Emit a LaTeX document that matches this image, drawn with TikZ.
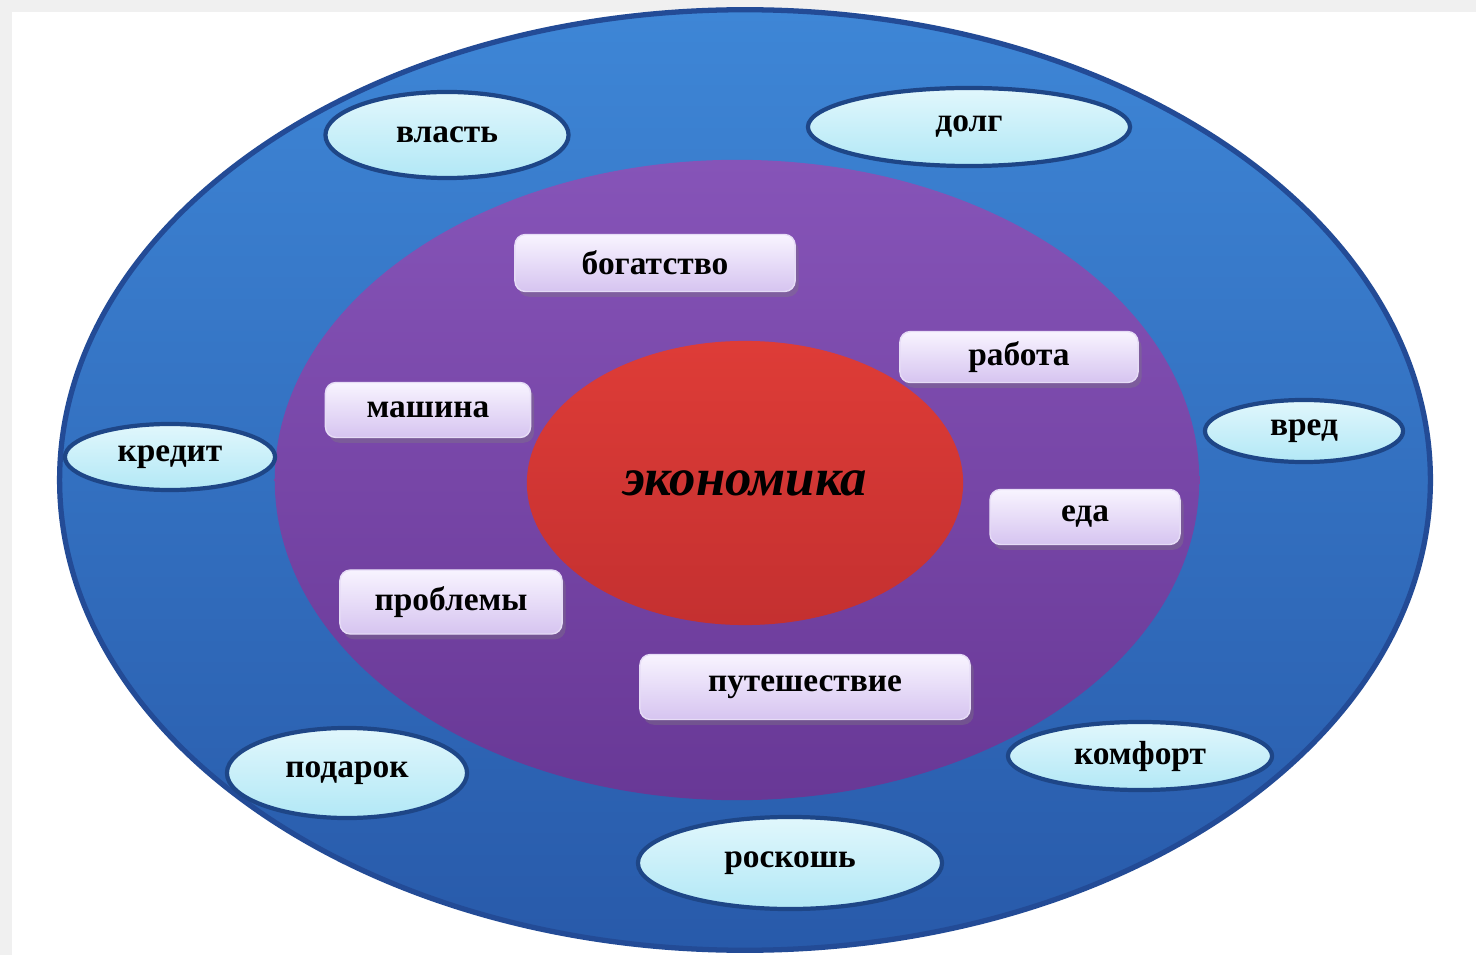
\documentclass[tikz,border=0pt]{standalone}
\usepackage{fontspec}
\setmainfont{Liberation Serif}
\usetikzlibrary{shapes.geometric,shadows}

\definecolor{wordtop}{RGB}{225,247,252}
\definecolor{wordbot}{RGB}{178,232,246}
\definecolor{tiletop}{RGB}{248,244,255}
\definecolor{tilebot}{RGB}{214,196,240}

\tikzset{
    word/.style={ellipse, draw={rgb,255:red,30;green,70;blue,135}, line width=1.2pt, inner sep=0pt,
        top color=wordtop, bottom color=wordbot,
        font=\fontsize{9.5}{12}\selectfont\bfseries},
    tile/.style={rounded corners=3pt, draw=tilebot!60!white, inner sep=0pt,
        top color=tiletop, bottom color=tilebot,
        drop shadow={opacity=0.35, shadow xshift=1pt, shadow yshift=-1.5pt},
        font=\fontsize{9.5}{12}\selectfont\bfseries}
}

\begin{document}
\begin{tikzpicture}[x=0.01cm, y=-0.01cm, outer sep=0pt]
    \useasboundingbox (0,0) rectangle (1476,955);
    % frame
    \fill[gray!12] (0,0) rectangle (1476,955);
    \fill[white] (12,12) rectangle (1476,955);

    % rings
    \node[ellipse, draw={rgb,255:red,35;green,75;blue,150}, line width=1.5pt, minimum width=13.7cm, minimum height=9.4cm,
        top color={rgb,255:red,62;green,134;blue,214}, bottom color={rgb,255:red,40;green,90;blue,170}]
        (outer) at (745,480) {};
    \node[ellipse, minimum width=9.24cm, minimum height=6.4cm,
        top color={rgb,255:red,134;green,84;blue,184}, bottom color={rgb,255:red,104;green,56;blue,150}]
        (inner) at (737,480) {};
    \node[ellipse, minimum width=4.36cm, minimum height=2.84cm,
        top color={rgb,255:red,222;green,60;blue,55}, bottom color={rgb,255:red,196;green,48;blue,48},
        font=\fontsize{15}{18}\selectfont\bfseries\itshape] (core) at (745,483) {экономика};

    % inner tiles
    \node[tile, minimum width=2.80cm, minimum height=0.57cm] (bogatstvo) at (655,263) {богатство};
    \node[tile, minimum width=2.38cm, minimum height=0.51cm] (rabota) at (1019,357) {работа};
    \node[tile, minimum width=2.05cm, minimum height=0.55cm] (mashina) at (428,410) {машина};
    \node[tile, minimum width=1.90cm, minimum height=0.55cm] (eda) at (1085,517) {еда};
    \node[tile, minimum width=2.22cm, minimum height=0.64cm] (problemy) at (451,602) {проблемы};
    \node[tile, minimum width=3.30cm, minimum height=0.65cm] (puteshestvie) at (805,687) {путешествие};

    % outer words
    \node[word, minimum width=2.43cm, minimum height=0.86cm] (vlast) at (447,135) {власть};
    \node[word, minimum width=3.22cm, minimum height=0.78cm] (dolg) at (969,127) {долг};
    \node[word, minimum width=2.10cm, minimum height=0.66cm] (kredit) at (170,457) {кредит};
    \node[word, minimum width=1.98cm, minimum height=0.62cm] (vred) at (1304,431) {вред};
    \node[word, minimum width=2.40cm, minimum height=0.90cm] (podarok) at (347,773) {подарок};
    \node[word, minimum width=2.64cm, minimum height=0.68cm] (komfort) at (1140,756) {комфорт};
    \node[word, minimum width=3.04cm, minimum height=0.92cm] (roskosh) at (790,863) {роскошь};
\end{tikzpicture}
\end{document}
